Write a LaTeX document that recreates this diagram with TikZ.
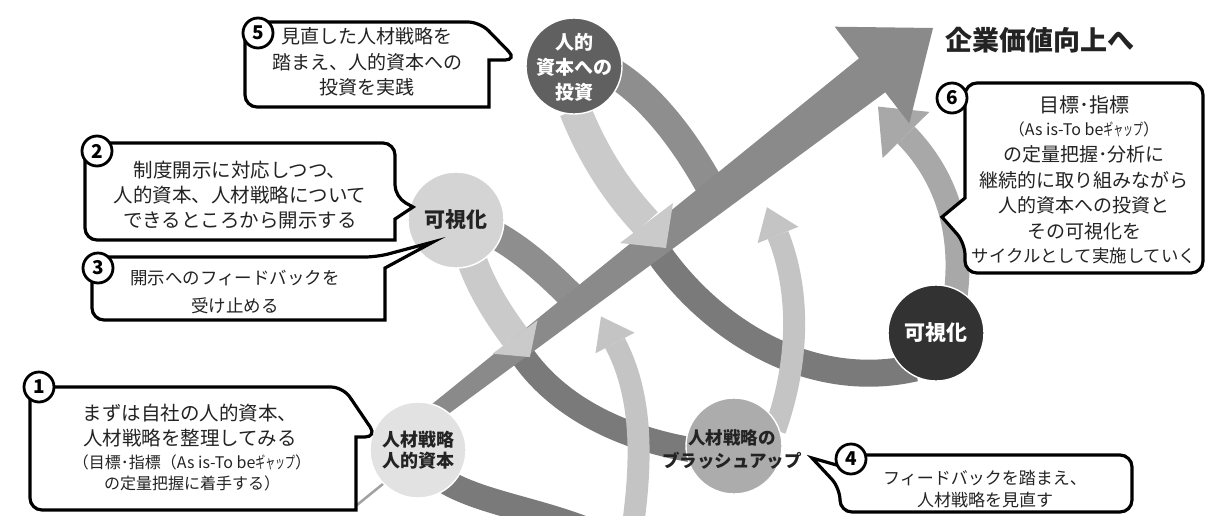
\documentclass[tikz,border=0pt]{standalone}
\usepackage{fontspec}
\setmainfont{Noto Sans CJK JP}
\definecolor{mainc}{RGB}{138,138,138}
\definecolor{dkA}{RGB}{142,142,142}
\definecolor{dkB}{RGB}{122,122,122}
\definecolor{ltA}{RGB}{202,202,202}
\definecolor{ltB}{RGB}{196,196,196}
\definecolor{mdA}{RGB}{168,168,168}
\definecolor{cA}{RGB}{226,226,226}
\definecolor{cB}{RGB}{212,212,212}
\definecolor{cC}{RGB}{96,96,96}
\definecolor{cD}{RGB}{172,172,172}
\definecolor{cE}{RGB}{50,50,50}
\definecolor{txtc}{RGB}{35,35,35}
\newcommand{\gapk}{\scalebox{0.62}[1]{ギャップ}}
\tikzset{
  ribbon/.style={line width=#1, line cap=butt},
  bubble/.style={draw=black, line width=3.2pt, fill=white},
  numc/.style={circle, draw=black, line width=2.8pt, fill=white, minimum size=30pt, inner sep=0pt, font=\bfseries\fontsize{19}{19}\selectfont},
  stage/.style={circle, minimum size=96pt, inner sep=0pt, draw=white, line width=1.4pt},
  ln/.style={text=txtc, inner sep=0pt, align=center},
}
\begin{document}
\begin{tikzpicture}[x=1pt,y=-1pt]
\fill[white] (0,0) rectangle (1210,515);
\useasboundingbox (0,0) rectangle (1210,515);
\begin{scope}
\clip (0,0) rectangle (1210,515);
% dark bands passing under the shaft
\draw[dkB, ribbon=25] (520,352) .. controls (555,405) and (620,440) .. (705,452);
\draw[dkB, ribbon=27] (655,248) .. controls (710,330) and (810,392) .. (915,368);
\draw[dkB, ribbon=25] (440,478) .. controls (480,505) and (550,510) .. (610,540);
% rising light bands
\draw[ltB, ribbon=22] (630,545) .. controls (642,470) and (645,400) .. (615,343);
\fill[ltB] (634.5,332.7) -- (601,316.5) -- (595.5,353.3) -- cycle;
\draw[ltB, ribbon=22] (775,430) .. controls (800,360) and (800,290) .. (778,235);
\fill[ltB] (798.4,226.8) -- (766.9,207.2) -- (757.6,243.2) -- cycle;
\draw[mdA, ribbon=24] (955,300) .. controls (965,230) and (945,175) .. (906,135);
\fill[mdA] (929.4,111.9) -- (878,106.6) -- (882.6,158.1) -- cycle;
% dark bands into shaft
\draw[dkA, ribbon=28] (490,232) .. controls (525,250) and (555,280) .. (575,300);
\draw[dkA, ribbon=29] (612,72) .. controls (650,95) and (685,140) .. (712,190);
% main arrow
\draw[mainc!80!white, line width=2.5pt] (352,509) -- (415,458);
\fill[mainc] (416.2,416.9) -- (859.0,58.3) -- (834.7,26.7) -- (933,28) -- (909.3,123.3) -- (885.2,92.3) -- (426.4,430.1) -- cycle;
% light feedback arrows on top of shaft
\draw[ltA, ribbon=30] (470,255) .. controls (480,285) and (495,310) .. (515,337);
\fill[ltA] (537.5,320.3) -- (529.9,357.1) -- (492.5,353.7) -- cycle;
\draw[ltA, ribbon=32] (575,110) .. controls (595,160) and (620,195) .. (646,223);
\fill[ltA] (673,203) -- (666,248) -- (620,243) -- cycle;
\end{scope}
% stage circles
\node[stage, fill=cA] (c1) at (418,450) {};
\node[stage, fill=cB] (c2) at (456,220) {};
\node[stage, fill=cC] (c3) at (574,66) {};
\node[stage, fill=cD] (c4) at (734,446) {};
\node[stage, fill=cE] (c5) at (936,333) {};
\node[ln, font=\bfseries\fontsize{18}{21}\selectfont] (l1) at (c1) {人材戦略\\人的資本};
\node[ln, font=\bfseries\fontsize{21}{24}\selectfont] (l2) at (c2) {可視化};
\node[ln, text=white, font=\bfseries\fontsize{19}{25}\selectfont] (l3) at (574,67) {人的\\資本への\\投資};
\node[ln, font=\bfseries\fontsize{17.5}{23}\selectfont] (l4) at (732,449) {人材戦略の\\ブラッシュアップ};
\node[ln, text=white, font=\bfseries\fontsize{21}{24}\selectfont] (l5) at (c5) {可視化};
\node[ln, font=\bfseries\fontsize{27}{30}\selectfont] (goal) at (1040,40) {企業価値向上へ};
% callouts
\draw[bubble] (30,450) [rounded corners=12pt] -- (30,387) -- (343,387) -- (377,437) [sharp corners] -- (356,437) -- (356,510) [rounded corners=12pt] -- (30,510) -- cycle;
\draw[bubble] (85,190) [rounded corners=12pt] -- (85,143) -- (395,143) -- (395,197) [sharp corners] -- (413,207) -- (395,219) -- (395,240) [rounded corners=12pt] -- (85,240) -- cycle;
\draw[bubble] (92,290) [rounded corners=12pt] -- (92,257) -- (377,257) [sharp corners] -- (433,242) -- (385,268) -- (385,320) [rounded corners=12pt] -- (92,320) -- cycle;
\draw[bubble] (245,65) [rounded corners=12pt] -- (245,22) -- (480,22) -- (517,60) [sharp corners] -- (489,60) -- (489,107) [rounded corners=12pt] -- (245,107) -- cycle;
\draw[bubble] (1100,83) [rounded corners=12pt] -- (1203,83) -- (1203,273) -- (965,273) -- (965,243) [sharp corners] -- (942,217) -- (965,198) -- (965,140) [rounded corners=12pt] -- (965,83) -- cycle;
\draw[bubble] (1000,455) [rounded corners=12pt] -- (1132,455) -- (1132,512) -- (840,512) -- (840,488) [sharp corners] -- (812,458) -- (840,466) -- (840,462) [rounded corners=12pt] -- (840,455) -- cycle;
% callout texts
\node[ln, font=\fontsize{19.5}{25}\selectfont] (t1a) at (190,426) {まずは自社の人的資本、\\人材戦略を整理してみる};
\node[ln, font=\fontsize{16}{21}\selectfont] (t1b) at (192,473) {（目標･指標（As is-To be\gapk）\\の定量把握に着手する）};
\node[ln, font=\fontsize{19.5}{25}\selectfont] (t2) at (240,195) {制度開示に対応しつつ、\\人的資本、人材戦略について\\できるところから開示する};
\node[ln, font=\fontsize{17.5}{28}\selectfont] (t3) at (235,292) {開示へのフィードバックを\\受け止める};
\node[ln, font=\fontsize{19}{25.5}\selectfont] (t5) at (367,62) {見直した人材戦略を\\踏まえ、人的資本への\\投資を実践};
\node[ln, font=\fontsize{17}{22}\selectfont] (t4) at (985,489) {フィードバックを踏まえ、\\人材戦略を見直す};
\node[ln, font=\fontsize{20}{22}\selectfont] (t6a) at (1084,105) {目標･指標};
\node[ln, font=\fontsize{16}{20}\selectfont] (t6b) at (1084,129) {（As is-To be\gapk）};
\node[ln, font=\fontsize{19}{22}\selectfont] (t6c) at (1084,154) {の定量把握･分析に};
\node[ln, font=\fontsize{19}{22}\selectfont] (t6d) at (1084,180) {継続的に取り組みながら};
\node[ln, font=\fontsize{19}{22}\selectfont] (t6e) at (1084,205) {人的資本への投資と};
\node[ln, font=\fontsize{19}{22}\selectfont] (t6f) at (1084,231) {その可視化を};
\node[ln, font=\fontsize{17.4}{22}\selectfont] (t6g) at (1084,256) {サイクルとして実施していく};
% numbers
\node[numc] (n1) at (39,387) {1};
\node[numc] (n2) at (97,151) {2};
\node[numc] (n3) at (98,268) {3};
\node[numc] (n4) at (851,459) {4};
\node[numc] (n5) at (258,33) {5};
\node[numc] (n6) at (952,98) {6};
\end{tikzpicture}
\end{document}
